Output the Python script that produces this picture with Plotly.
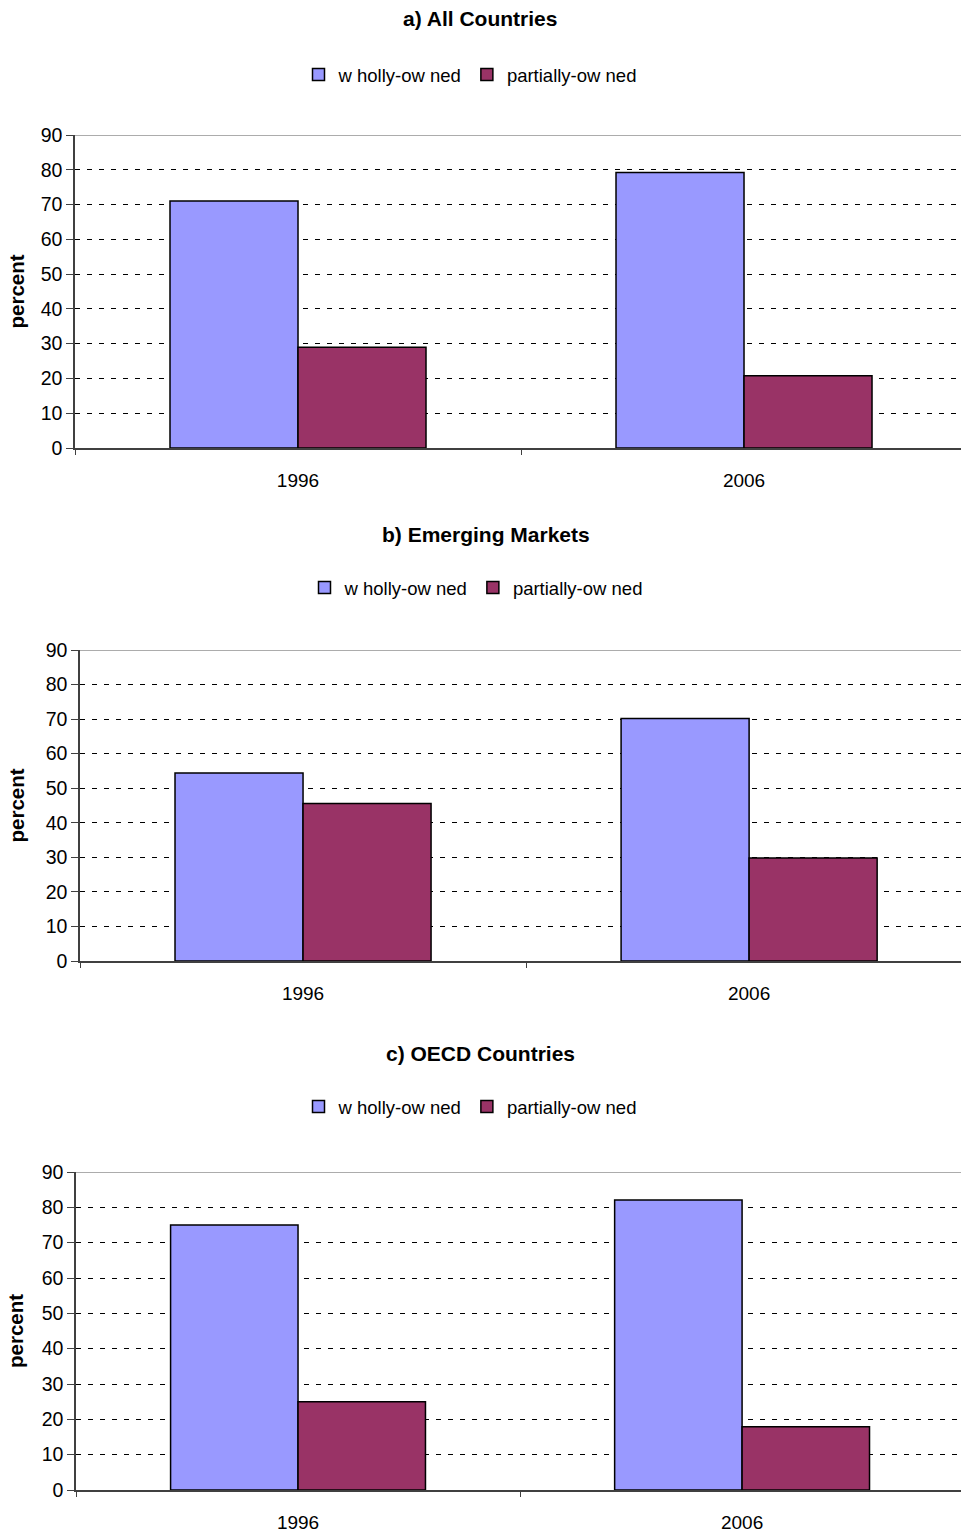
import plotly.graph_objects as go

categories = ["1996", "2006"]
series_names = ["w holly-ow ned", "partially-ow ned"]
panel_titles = ["a) All Countries", "b) Emerging Markets", "c) OECD Countries"]

a_wholly = [71.0, 79.2]
a_partial = [29.0, 20.8]
b_wholly = [54.4, 70.2]
b_partial = [45.6, 29.8]
c_wholly = [75.0, 82.1]
c_partial = [25.0, 17.9]

y_ticks = [0, 10, 20, 30, 40, 50, 60, 70, 80, 90]

W, H = 961, 1533
C_WHOLLY = "#9999FF"
C_PARTIAL = "#993366"
FONT = "Liberation Sans, Arial, sans-serif"

panels = [
    dict(w=a_wholly, p=a_partial, x0=75, xend=1.4865, top=135, bot=448, title_y=19, leg_y=75, title_x=480, leg_x=470),
    dict(w=b_wholly, p=b_partial, x0=80, xend=1.475, top=650, bot=961, title_y=534, leg_y=588, title_x=486, leg_x=476),
    dict(w=c_wholly, p=c_partial, x0=76, xend=1.493, top=1172, bot=1490, title_y=1053, leg_y=1107, title_x=480, leg_x=470),
]

fig = go.Figure()
layout = dict(
    width=W, height=H,
    margin=dict(l=0, r=0, t=0, b=0, autoexpand=False),
    plot_bgcolor="white", paper_bgcolor="white",
    barmode="group", bargap=0.426, bargroupgap=0,
    font=dict(family=FONT, size=19, color="black"),
    showlegend=True,
)
annotations = []
shapes = []

for i, pnl in enumerate(panels):
    n = "" if i == 0 else str(i + 1)
    xa, ya = "x" + n, "y" + n
    leg = "legend" + n
    for name, vals, col in [(series_names[0], pnl["w"], C_WHOLLY), (series_names[1], pnl["p"], C_PARTIAL)]:
        fig.add_trace(go.Bar(
            x=categories, y=vals, name=name, xaxis=xa, yaxis=ya, legend=leg,
            marker=dict(color=col, line=dict(color="black", width=1.5)),
            hoverinfo="skip",
        ))
    ydom = [1 - pnl["bot"] / H, 1 - pnl["top"] / H]
    layout["xaxis" + n] = dict(
        domain=[pnl["x0"] / W, 1.0], anchor=ya, type="category",
        range=[-0.5, pnl["xend"]], automargin=False,
        showline=True, linecolor="#404040", linewidth=1.5,
        ticks="outside", tickson="boundaries", ticklen=5, tickcolor="#404040",
        ticklabelstandoff=14, showgrid=False, tickfont=dict(size=19),
    )
    layout["yaxis" + n] = dict(
        domain=ydom, anchor=xa, range=[0, 90], tickvals=y_ticks, automargin=False,
        showline=True, linecolor="#404040", linewidth=1.5,
        ticks="outside", ticklen=7, tickcolor="#404040",
        showgrid=True, gridcolor="black", gridwidth=1, griddash="5px,7px",
        zeroline=False, tickfont=dict(size=19.5),
    )
    layout[leg] = dict(
        orientation="h", x=pnl["leg_x"] / W, xanchor="center",
        y=1 - pnl["leg_y"] / H, yanchor="middle",
        font=dict(size=18.5), bgcolor="rgba(0,0,0,0)",
        itemwidth=30, tracegroupgap=0,
    )
    annotations.append(dict(
        text="<b>" + panel_titles[i] + "</b>", x=pnl["title_x"] / W, y=1 - pnl["title_y"] / H,
        xref="paper", yref="paper", showarrow=False, font=dict(size=21),
        xanchor="center", yanchor="middle",
    ))
    annotations.append(dict(
        text="<b>percent</b>", x=16 / W, y=(ydom[0] + ydom[1]) / 2,
        xref="paper", yref="paper", showarrow=False, font=dict(size=20.5),
        textangle=-90, xanchor="center", yanchor="middle",
    ))
    shapes.append(dict(
        type="line", xref=xa + " domain", yref=ya, x0=0, x1=1, y0=90, y1=90,
        line=dict(color="#909090", width=1.5),
    ))

layout["annotations"] = annotations
layout["shapes"] = shapes
fig.update_layout(**layout)
fig.write_html("out.html")
